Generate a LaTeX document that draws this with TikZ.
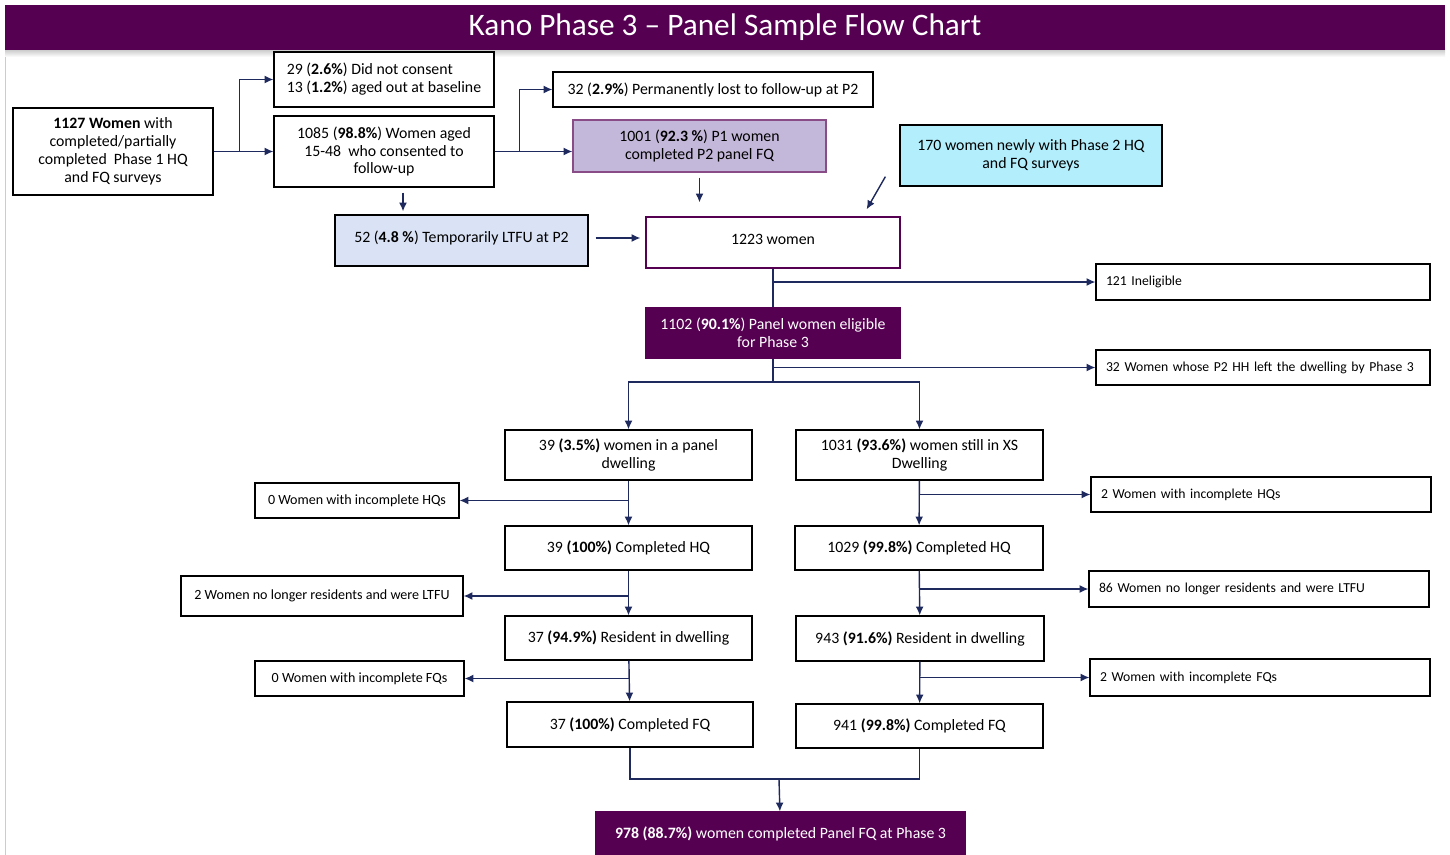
\documentclass[tikz,border=0pt]{standalone}
\usepackage{fontspec}
\setmainfont{Carlito}
\usepackage{tikz}
\usetikzlibrary{arrows.meta}
\usetikzlibrary{positioning}

\definecolor{kanopurple}{RGB}{86,0,82}
\definecolor{kanolilac}{RGB}{196,184,218}
\definecolor{kanocyan}{RGB}{178,238,252}
\definecolor{kanoblue}{RGB}{218,227,246}
\definecolor{kanonavy}{RGB}{30,42,94}

\tikzset{
  box/.style={draw=black, line width=0.7pt, fill=white, align=center, inner sep=2pt,
    font=\fontsize{9}{10.2}\selectfont},
  smallbox/.style={box, font=\fontsize{8}{9.6}\selectfont},
  sidebox/.style={box, inner xsep=0.2cm, text width=#1, align=left, font=\fontsize{7.8}{9.4}\selectfont},
  fillbox/.style={box, fill=kanopurple, draw=kanopurple, text=white},
  link/.style={draw=kanonavy, line width=0.8pt},
  arr/.style={link, -{Latex[length=5pt,width=4.5pt]}},
}

\begin{document}
\begin{tikzpicture}[x=0.02cm, y=-0.02cm]
    \useasboundingbox (0,0) rectangle (1450,855);
    \draw[gray!40] (5,50) -- (5,855);
    \shade[top color=gray!45, bottom color=white] (5,49) rectangle (1445,57);
    \node[fill=kanopurple, text=white, minimum width=28.8cm, minimum height=0.9cm,
      font=\fontsize{17.8}{20}\selectfont] (title) at (725,27.5) {Kano Phase 3 -- Panel Sample Flow Chart};

    \node[box, minimum width=4cm, minimum height=1.74cm] (start) at (113,151.5)
      {\textbf{1127 Women} with\\completed/partially\\completed~ Phase 1 HQ\\and FQ surveys};
    \node[box, align=left, minimum width=4.4cm, minimum height=1.1cm] (excl) at (384,79.5)
      {29 (\textbf{2.6\%}) Did not consent\\13 (\textbf{1.2\%}) aged out at baseline};
    \node[box, minimum width=4.4cm, minimum height=1.42cm] (cons) at (384,151.5)
      {1085 (\textbf{98.8\%}) Women aged\\15-48~ who consented to\\follow-up};
    \node[box, minimum width=6.4cm, minimum height=0.7cm] (perm) at (713,89.5)
      {32 (\textbf{2.9\%}) Permanently lost to follow-up at P2};
    \node[box, fill=kanolilac, draw=kanopurple!70, minimum width=5.06cm, minimum height=1.04cm] (p2fq) at (699.5,146)
      {1001 (\textbf{92.3 \%}) P1 women\\completed P2 panel FQ};
    \node[box, fill=kanocyan, minimum width=5.24cm, minimum height=1.22cm] (newp2) at (1031,155.5)
      {170 women newly with Phase 2 HQ\\and FQ surveys};
    \node[box, fill=kanoblue, minimum width=5.06cm, minimum height=1.02cm, text depth=0.15cm] (temp) at (461.5,240.5)
      {52 (\textbf{4.8 \%}) Temporarily LTFU at P2};
    \node[box, draw=kanopurple, minimum width=5.08cm, minimum height=1.02cm, text depth=0.12cm] (all) at (773,242.5) {1223 women};
    \node[sidebox=6.28cm, minimum height=0.72cm] (inel) at (1263,282) {121 Ineligible};
    \node[fillbox, minimum width=5.08cm, minimum height=1cm] (elig) at (773,333)
      {1102 (\textbf{90.1\%}) Panel women eligible\\for Phase 3};
    \node[sidebox=6.28cm, minimum height=0.7cm] (moved) at (1263,367.5)
      {32 Women whose P2 HH left the dwelling by Phase 3};

    \node[box, minimum width=4.94cm, minimum height=1cm] (pan) at (628.5,455) {39 \textbf{(3.5\%)} women in a panel\\dwelling};
    \node[box, minimum width=4.94cm, minimum height=0.88cm] (panhq) at (628.5,548) {39 \textbf{(100\%)} Completed HQ};
    \node[box, minimum width=4.94cm, minimum height=0.88cm] (panres) at (628.5,638) {37 \textbf{(94.9\%)} Resident in dwelling};
    \node[box, minimum width=4.92cm, minimum height=0.9cm] (panfq) at (630,724.5) {37 \textbf{(100\%)} Completed FQ};
    \node[smallbox, minimum width=4.08cm, minimum height=0.7cm] (panhqx) at (357,500.5) {0 Women with incomplete HQs};
    \node[smallbox, minimum width=5.64cm, minimum height=0.8cm] (panltfu) at (322,596) {2 Women no longer residents and were LTFU};
    \node[smallbox, minimum width=4.18cm, minimum height=0.7cm] (panfqx) at (359.5,678.5) {0 Women with incomplete FQs};

    \node[box, minimum width=4.94cm, minimum height=1cm] (xs) at (919.5,455) {1031 \textbf{(93.6\%)} women still in XS\\Dwelling};
    \node[box, minimum width=4.96cm, minimum height=0.88cm] (xshq) at (919,548) {1029 \textbf{(99.8\%)} Completed HQ};
    \node[box, minimum width=4.96cm, minimum height=0.9cm] (xsres) at (920,638.5) {943 \textbf{(91.6\%)} Resident in dwelling};
    \node[box, minimum width=4.94cm, minimum height=0.88cm] (xsfq) at (919.5,726) {941 \textbf{(99.8\%)} Completed FQ};
    \node[sidebox=6.4cm, minimum height=0.7cm] (xshqx) at (1261,494.5) {2 Women with incomplete HQs};
    \node[sidebox=6.4cm, minimum height=0.72cm] (xsltfu) at (1259,589) {86 Women no longer residents and were LTFU};
    \node[sidebox=6.4cm, minimum height=0.74cm] (xsfqx) at (1260,677.5) {2 Women with incomplete FQs};

    \node[fillbox, minimum width=7.38cm, minimum height=0.86cm] (final) at (780.5,833.5)
      {\textbf{978 (88.7\%)} women completed Panel FQ at Phase 3};

    \draw[arr] (start) -- (cons);
    \draw[arr] ([xshift=0.52cm]start.east) |- (excl.west);
    \draw[arr] (cons.east) -- (cons.east -| p2fq.west);
    \draw[arr] ([xshift=0.5cm]cons.east) |- (perm.west);
    \draw[arr, shorten <=0.1cm, shorten >=0.06cm] ([xshift=0.38cm]cons.south) -- ([xshift=0.38cm]cons.south |- temp.north);
    \draw[arr, shorten <=0.1cm, shorten >=0.28cm] (p2fq.south) -- (p2fq.south |- all.north);
    \draw[arr] ([xshift=-0.28cm,yshift=0.2cm]newp2.south west) -- ([xshift=-0.68cm,yshift=0.14cm]all.north east);
    \draw[arr, shorten <=0.14cm, shorten >=0.1cm] ([yshift=0.05cm]temp.east) -- ([yshift=0.05cm]temp.east -| all.west);

    \draw[link] (all) -- (elig);
    \draw[arr] (all.south |- inel.west) -- (inel.west);
    \coordinate (split) at (773,382);
    \draw[link] (elig.south) -- (split);
    \draw[arr] (elig.south |- moved.west) -- (moved.west);
    \draw[arr] (split) -| (pan.north);
    \draw[arr] (split) -| (xs.north);

    \foreach \a/\b/\c in {pan/panhq/panhqx, panhq/panres/panltfu, panres/panfq/panfqx,
                          xs/xshq/xshqx, xshq/xsres/xsltfu, xsres/xsfq/xsfqx}
      {
        \draw[arr] (\a) -- (\b);
        \draw[arr] (\a.south |- \c) -- (\c);
      }

    \coordinate (merge) at (779,779);
    \draw[link] (panfq.south) |- (merge) -| (xsfq.south);
    \draw[arr] (merge) -- (final);
\end{tikzpicture}
\end{document}
